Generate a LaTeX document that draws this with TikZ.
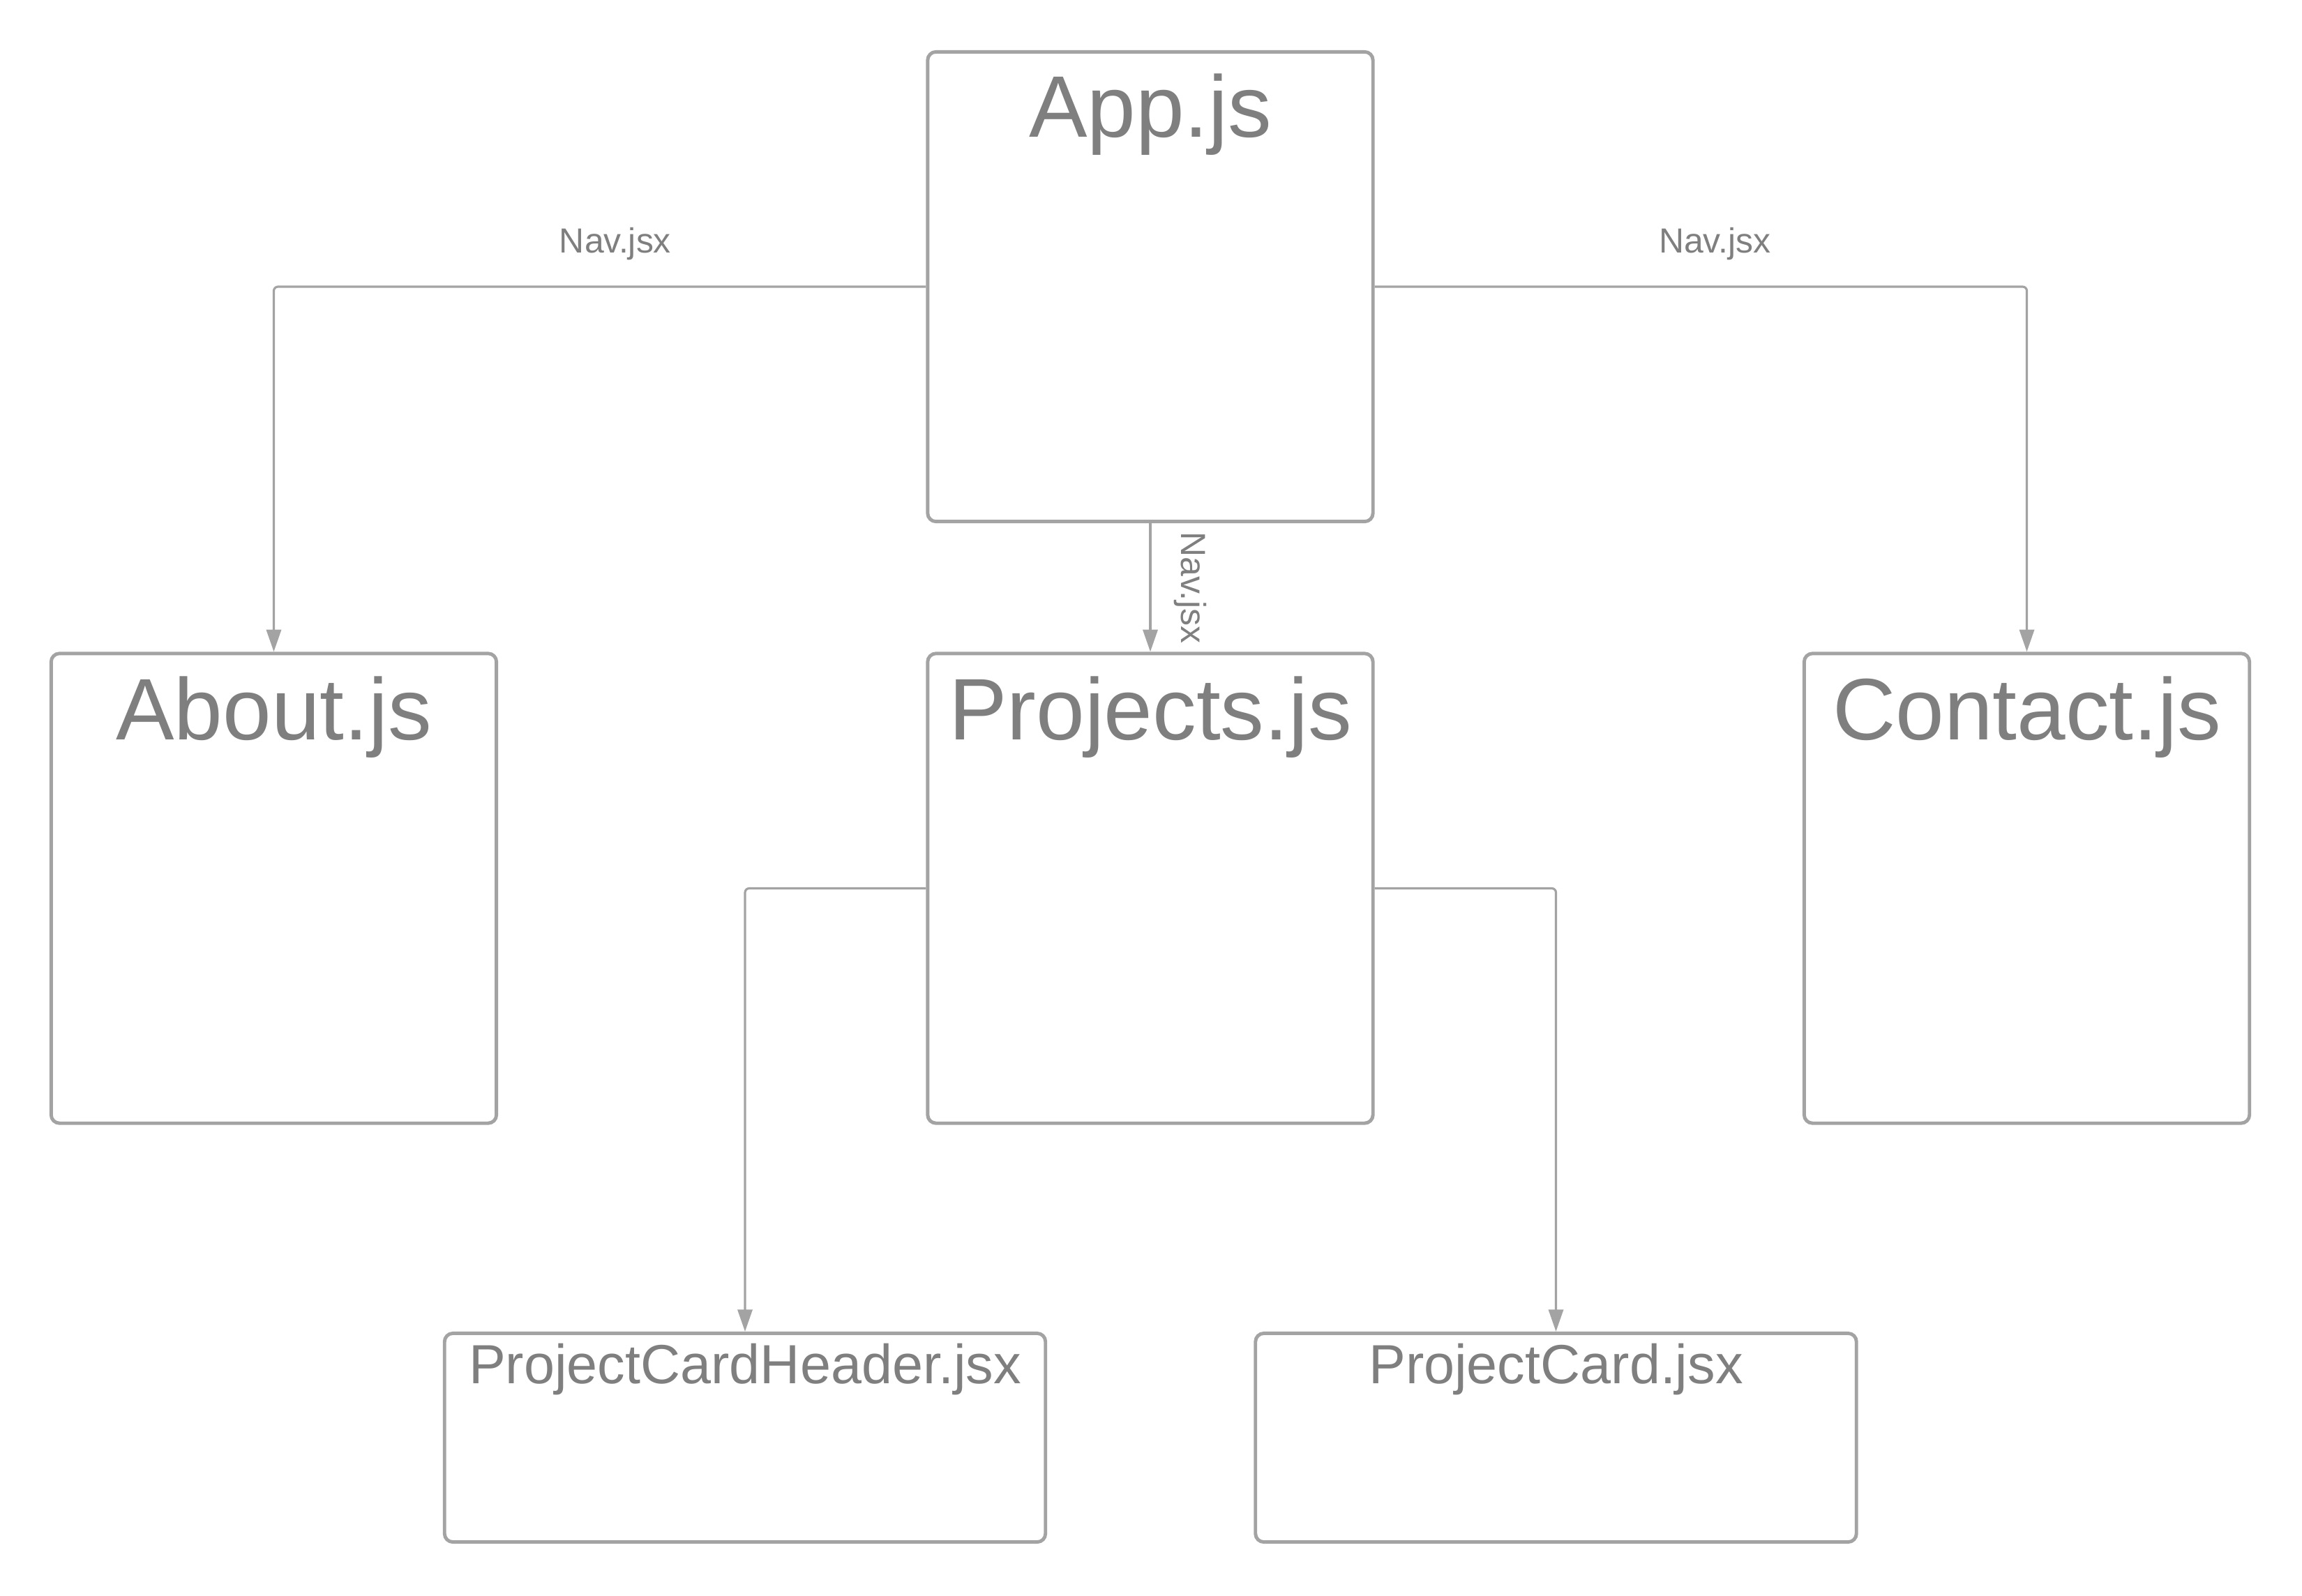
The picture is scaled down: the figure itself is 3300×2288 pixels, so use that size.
\documentclass[tikz,border=0pt]{standalone}
\usepackage{fontspec}
\setmainfont{Liberation Sans}
\usetikzlibrary{arrows.meta}
\definecolor{edgegray}{HTML}{A3A3A3}
\definecolor{txtgray}{HTML}{7F7F7F}
\tikzset{
  box/.style={draw=edgegray, line width=1.4pt, rounded corners=0.12cm, minimum width=6.38cm, minimum height=6.73cm, inner sep=0pt},
  card/.style={box, minimum width=8.61cm, minimum height=2.99cm},
  boxtitle/.style={text=txtgray, font=\fontsize{35.6}{40}\selectfont, anchor=base, inner sep=0pt},
  cardtitle/.style={boxtitle, font=\fontsize{22.5}{26}\selectfont},
  navlbl/.style={text=txtgray, font=\fontsize{14.2}{17}\selectfont, inner sep=0pt},
  link/.style={draw=edgegray, line width=0.9pt, rounded corners=0.06cm, -{Triangle[length=9pt,width=6pt]}},
}
\begin{document}
\begin{tikzpicture}[x=0.01cm, y=-0.01cm]
    \useasboundingbox (0,0) rectangle (3300,2288);
    % components
    \node[box] (app) at (1649,411) {};
    \node[boxtitle] (apptitle) at ([yshift=-1.25cm]app.north) {App.js};
    \node[box] (about) at (392.5,1273.5) {};
    \node[boxtitle] (abouttitle) at ([yshift=-1.26cm]about.north) {About.js};
    \node[box] (proj) at (1649,1273.5) {};
    \node[boxtitle] (projtitle) at ([yshift=-1.26cm]proj.north) {Projects.js};
    \node[box] (contact) at (2905.5,1273.5) {};
    \node[boxtitle] (contacttitle) at ([yshift=-1.26cm]contact.north) {Contact.js};
    \node[card] (pch) at (1068,2061) {};
    \node[cardtitle] (pchtitle) at ([yshift=-0.74cm]pch.north) {ProjectCardHeader.jsx};
    \node[card] (pc) at (2230.5,2061) {};
    \node[cardtitle] (pctitle) at ([yshift=-0.74cm]pc.north) {ProjectCard.jsx};
    % routes
    \draw[link] (app.west) -| node[pos=0.25, navlbl, anchor=base, xshift=0.22cm, yshift=0.48cm] (navleft) {Nav.jsx} (about.north);
    \draw[link] (app.east) -| node[pos=0.25, navlbl, anchor=base, xshift=0.2cm, yshift=0.48cm] (navright) {Nav.jsx} (contact.north);
    \draw[link] (app.south) -- node[midway, xshift=0.44cm, rotate=-90, anchor=base, navlbl] (navmid) {Nav.jsx} (proj.north);
    % cards
    \draw[link] (proj.west) -| (pch.north);
    \draw[link] (proj.east) -| (pc.north);
\end{tikzpicture}
\end{document}
